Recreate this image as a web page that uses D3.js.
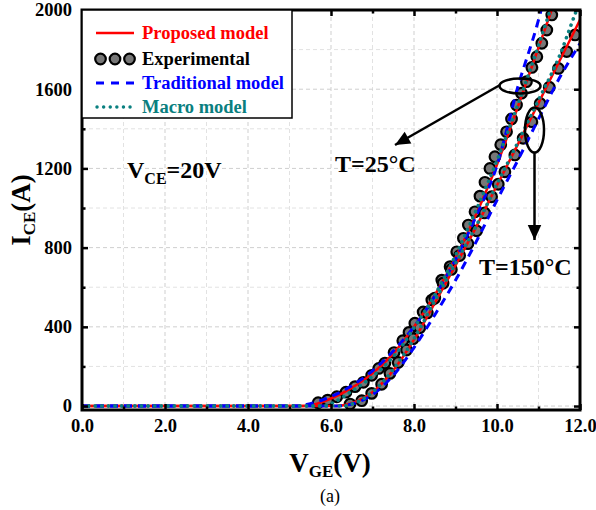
<!DOCTYPE html>
<html><head><meta charset="utf-8">
<script src="https://cdn.jsdelivr.net/npm/d3@7/dist/d3.min.js"></script>
<style>
body{margin:0;background:#fff;}
svg{display:block;}
svg text{font-family:"Liberation Serif","Times New Roman",serif !important;}
</style></head>
<body><svg id="c" width="596" height="510"></svg>
<script>
// ---- data ----
const xTicks = [0, 2, 4, 6, 8, 10, 12];
const yTicks = [0, 400, 800, 1200, 1600, 2000];
const legendLabels = ["Proposed model", "Experimental", "Traditional model", "Macro model"];

const exp25 = [[5.69,17],[5.92,30],[6.14,47],[6.36,70],[6.58,98],[6.78,120],[6.98,155],[7.15,190],[7.3,217],[7.52,270],[7.73,330],[7.88,372],[8.02,418],[8.22,475],[8.43,535],[8.67,636],[8.87,704],[9.03,779],[9.19,847],[9.31,914],[9.47,981],[9.59,1060],[9.71,1130],[9.83,1200],[9.95,1259],[10.09,1320],[10.23,1385],[10.35,1450],[10.47,1520],[10.59,1580],[10.71,1638],[10.84,1710],[10.96,1764],[11.08,1832],[11.2,1899],[11.32,1975]];
const exp150 = [[6.46,10],[6.74,27],[6.98,64],[7.22,110],[7.42,165],[7.62,220],[7.82,283],[7.98,340],[8.14,395],[8.32,470],[8.5,545],[8.7,620],[8.9,690],[9.1,760],[9.3,820],[9.51,885],[9.7,975],[9.87,1057],[10.03,1120],[10.19,1183],[10.43,1268],[10.63,1352],[10.84,1436],[11.04,1528],[11.26,1610],[11.48,1705],[11.68,1790],[11.88,1874]];

const proposed25 = [[0,0],[5.3,0],[5.6,8],[6.0,38],[6.5,92],[7.0,165],[7.5,265],[8.0,400],[8.5,560],[9.0,750],[9.5,970],[10.0,1220],[10.5,1510],[11.0,1810],[11.4,2050]];
const proposed150 = [[0,0],[6.1,0],[6.5,15],[7.0,70],[7.5,180],[8.0,335],[8.5,520],[9.0,710],[9.5,905],[10.0,1115],[10.5,1320],[11.0,1530],[11.5,1740],[12.0,1950]];
const traditional25 = [[0,0],[5.2,0],[5.5,12],[6.0,48],[6.5,102],[7.0,178],[7.5,278],[8.0,400],[8.5,555],[9.0,740],[9.5,960],[10.0,1215],[10.5,1610],[11.0,1950],[11.1,2030]];
const traditional150 = [[0,0],[6.1,0],[6.5,10],[7.0,58],[7.5,155],[8.0,295],[8.5,460],[9.0,635],[9.5,830],[10.0,1040],[10.5,1240],[11.0,1450],[11.5,1655],[12.0,1830]];
const macro25 = [[0,0],[5.8,0],[6.0,12],[6.25,40],[6.5,75],[6.75,110],[7.0,150],[7.25,195],[7.5,250],[7.75,315],[8.0,395],[8.5,560],[9.0,760],[9.5,990],[10.0,1240],[10.5,1520],[11.0,1820],[11.3,2010]];
const macro150 = [[0,0],[6.3,0],[6.5,10],[7.0,70],[7.5,185],[8.0,340],[8.5,530],[9.0,720],[9.5,910],[10.0,1120],[10.5,1330],[11.0,1545],[11.5,1765],[11.9,1990],[12.0,2045]];

// ---- layout ----
const L = 82, R = 580, T = 10, B = 410;
const svg = d3.select("#c");
const x = d3.scaleLinear().domain([0, 12]).range([L, R]);
const y = d3.scaleLinear().domain([-20, 2000]).range([B, T]);

// gridlines
const g = svg.append("g");
d3.range(1, 12, 1).forEach(v => {
  g.append("line").attr("x1", x(v)).attr("x2", x(v)).attr("y1", T).attr("y2", B)
    .attr("stroke", v % 2 ? "#e2e2e2" : "#cfcfcf").attr("stroke-width", 1).attr("stroke-dasharray", "4,3");
});
d3.range(0, 2000, 200).forEach(v => {
  g.append("line").attr("x1", L).attr("x2", R).attr("y1", y(v)).attr("y2", y(v))
    .attr("stroke", (v / 200) % 2 ? "#e2e2e2" : "#cfcfcf").attr("stroke-width", 1).attr("stroke-dasharray", "4,3");
});

// clip
svg.append("clipPath").attr("id", "clip").append("rect").attr("x", L).attr("y", T).attr("width", R - L).attr("height", B - T);
const plot = svg.append("g").attr("clip-path", "url(#clip)");

const line = d3.line().x(d => x(d[0])).y(d => y(d[1])).curve(d3.curveMonotoneX);

// experimental points
[exp25, exp150].forEach(s => {
  plot.selectAll(null).data(s).enter().append("circle")
    .attr("cx", d => x(d[0])).attr("cy", d => y(d[1])).attr("r", 5.3)
    .attr("fill", "#777").attr("stroke", "#000").attr("stroke-width", 2.2);
});
// model lines
[proposed25, proposed150].forEach(s => plot.append("path").attr("d", line(s)).attr("fill", "none").attr("stroke", "#ff0000").attr("stroke-width", 2.5));
[traditional25, traditional150].forEach(s => plot.append("path").attr("d", line(s)).attr("fill", "none").attr("stroke", "#0000ff").attr("stroke-width", 3).attr("stroke-dasharray", "8,6"));
[macro25, macro150].forEach(s => plot.append("path").attr("d", line(s)).attr("fill", "none").attr("stroke", "#0a8080").attr("stroke-width", 3.6).attr("stroke-linecap", "round").attr("stroke-dasharray", "0.1,6.5"));

// axes (ticks inward on all sides)
function styleAxis(sel) {
  sel.select(".domain").remove();
  sel.selectAll(".tick line").attr("stroke", "#000").attr("stroke-width", 2.5);
  sel.selectAll("text").attr("font-weight", "bold").attr("font-size", 18.5).attr("fill", "#000");
}
const minorX = d3.range(1, 12, 2), minorY = d3.range(200, 2000, 400);
svg.append("g").attr("transform", `translate(0,${B})`)
  .call(d3.axisBottom(x).tickValues(xTicks).tickSize(-6).tickPadding(9).tickFormat(d3.format(".1f"))).call(styleAxis);
svg.append("g").attr("transform", `translate(0,${B})`)
  .call(d3.axisBottom(x).tickValues(minorX).tickSize(-3.5).tickFormat("")).call(styleAxis);
svg.append("g").attr("transform", `translate(0,${T})`)
  .call(d3.axisTop(x).tickValues(xTicks).tickSize(-6).tickFormat("")).call(styleAxis);
svg.append("g").attr("transform", `translate(0,${T})`)
  .call(d3.axisTop(x).tickValues(minorX).tickSize(-3.5).tickFormat("")).call(styleAxis);
svg.append("g").attr("transform", `translate(${L},0)`)
  .call(d3.axisLeft(y).tickValues(yTicks).tickSize(-6).tickPadding(10).tickFormat(d3.format("d"))).call(styleAxis);
svg.append("g").attr("transform", `translate(${L},0)`)
  .call(d3.axisLeft(y).tickValues(minorY).tickSize(-3.5).tickFormat("")).call(styleAxis);
svg.append("g").attr("transform", `translate(${R},0)`)
  .call(d3.axisRight(y).tickValues(yTicks).tickSize(-6).tickFormat("")).call(styleAxis);
svg.append("g").attr("transform", `translate(${R},0)`)
  .call(d3.axisRight(y).tickValues(minorY).tickSize(-3.5).tickFormat("")).call(styleAxis);

// frame
svg.append("rect").attr("x", L).attr("y", T).attr("width", R - L).attr("height", B - T)
  .attr("fill", "none").attr("stroke", "#000").attr("stroke-width", 3);

// legend
const lg = svg.append("g");
lg.append("rect").attr("x", L).attr("y", T).attr("width", 210).attr("height", 108)
  .attr("fill", "#fff").attr("stroke", "#000").attr("stroke-width", 1.5);
const rows = [33, 59, 83, 107];
const colors = ["#ff0000", "#000", "#0000ff", "#0a7f7f"];
lg.append("line").attr("x1", 96).attr("x2", 134).attr("y1", rows[0]).attr("y2", rows[0]).attr("stroke", "#ff0000").attr("stroke-width", 2.5);
[100.5, 115, 129.5].forEach(cx => lg.append("circle").attr("cx", cx).attr("cy", rows[1]).attr("r", 5.3).attr("fill", "#777").attr("stroke", "#000").attr("stroke-width", 2.2));
lg.append("line").attr("x1", 96).attr("x2", 134).attr("y1", rows[2]).attr("y2", rows[2]).attr("stroke", "#0000ff").attr("stroke-width", 3).attr("stroke-dasharray", "8,7");
lg.append("line").attr("x1", 97).attr("x2", 134).attr("y1", rows[3]).attr("y2", rows[3]).attr("stroke", "#0a8080").attr("stroke-width", 3.4).attr("stroke-linecap", "round").attr("stroke-dasharray", "0.1,6.5");
legendLabels.forEach((t, i) => {
  lg.append("text").attr("x", 142).attr("y", rows[i]).attr("dy", "0.35em")
    .attr("font-size", 18.5).attr("font-weight", "bold").attr("fill", colors[i]).text(t);
});

// axis titles
const yt = svg.append("text").attr("transform", "translate(30,210) rotate(-90)").attr("text-anchor", "middle")
  .attr("font-size", 27).attr("font-weight", "bold");
yt.append("tspan").text("I");
yt.append("tspan").attr("font-size", 17).attr("dy", 5).text("CE");
yt.append("tspan").attr("dy", -5).text("(A)");
const xt = svg.append("text").attr("x", 330).attr("y", 472).attr("text-anchor", "middle")
  .attr("font-size", 27).attr("font-weight", "bold");
xt.append("tspan").text("V");
xt.append("tspan").attr("font-size", 17).attr("dy", 5).text("GE");
xt.append("tspan").attr("dy", -5).text("(V)");
svg.append("text").attr("x", 330).attr("y", 502).attr("text-anchor", "middle").attr("font-size", 18).text("(a)");

// annotations
const vce = svg.append("text").attr("x", 127).attr("y", 178).attr("font-size", 24).attr("font-weight", "bold");
vce.append("tspan").text("V");
vce.append("tspan").attr("font-size", 16).attr("dy", 6).text("CE");
vce.append("tspan").attr("dy", -6).text("=20V");
svg.append("text").attr("x", 335).attr("y", 172).attr("font-size", 24).attr("font-weight", "bold").text("T=25°C");
svg.append("text").attr("x", 479).attr("y", 275).attr("font-size", 24).attr("font-weight", "bold").text("T=150°C");

svg.append("ellipse").attr("cx", 520).attr("cy", 86).attr("rx", 20.5).attr("ry", 7.5).attr("fill", "none").attr("stroke", "#000").attr("stroke-width", 2.5);
svg.append("ellipse").attr("cx", 534.5).attr("cy", 130).attr("rx", 9.5).attr("ry", 22.5).attr("fill", "none").attr("stroke", "#000").attr("stroke-width", 2.5);
svg.append("defs").append("marker").attr("id", "ah").attr("viewBox", "0 0 10 10").attr("refX", 10).attr("refY", 5)
  .attr("markerWidth", 8).attr("markerHeight", 6).attr("markerUnits", "strokeWidth").attr("orient", "auto")
  .append("path").attr("d", "M0,0.5 L10,5 L0,9.5 Z").attr("fill", "#000");
svg.append("line").attr("x1", 500).attr("y1", 85).attr("x2", 395).attr("y2", 145).attr("stroke", "#000").attr("stroke-width", 2.5).attr("marker-end", "url(#ah)");
svg.append("line").attr("x1", 534.5).attr("y1", 152.5).attr("x2", 534.5).attr("y2", 240).attr("stroke", "#000").attr("stroke-width", 2.5).attr("marker-end", "url(#ah)");
</script></body></html>
